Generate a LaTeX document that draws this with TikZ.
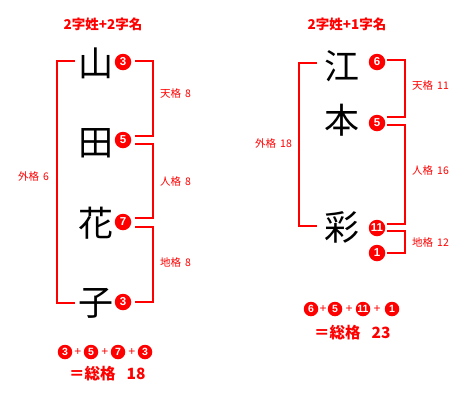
\documentclass[tikz,border=0pt]{standalone}
\usepackage{fontspec}
\newfontfamily\jp{Noto Sans CJK JP}
\newfontfamily\numf{Liberation Sans}
\definecolor{rd}{RGB}{255,0,0}
\tikzset{
  br/.style={draw=rd, line width=2pt},
  num/.style={circle, fill=rd, text=white, inner sep=0pt, minimum size=16.5pt, font=\numf\bfseries\fontsize{11.5}{11.5}\selectfont},
  snum/.style={num, minimum size=14.5pt, font=\numf\bfseries\fontsize{10.5}{10.5}\selectfont},
  big/.style={font=\jp\fontsize{35}{35}\selectfont, inner sep=0pt},
  lab/.style={text=rd, font=\jp\fontsize{10.5}{10.5}\selectfont, inner sep=0pt},
  ttl/.style={text=rd, font=\jp\bfseries\fontsize{13.5}{13.5}\selectfont, inner sep=0pt},
  tot/.style={text=rd, font=\jp\bfseries\fontsize{15.5}{15.5}\selectfont, inner sep=0pt},
  pls/.style={text=rd, font=\numf\fontsize{12}{12}\selectfont, inner sep=0pt},
}
\begin{document}
\begin{tikzpicture}[x=1pt,y=-1pt]
\useasboundingbox (0,0) rectangle (470,400);
% ---------- left ----------
\node[ttl] (t1) at (103,24) {2字姓+2字名};
\node[big] (a1) at (96,63) {山};
\node[big] (a2) at (96,143) {田};
\node[big] (a3) at (96,223) {花};
\node[big] (a4) at (96,303) {子};
\node[num] (n1) at (123,62) {3};
\node[num] (n2) at (123,140) {5};
\node[num] (n3) at (123,222) {7};
\node[num] (n4) at (123,302) {3};
% outer bracket
\coordinate (la) at (75,61);
\coordinate (lb) at (57,61);
\coordinate (lc) at (57,303);
\coordinate (ld) at (75,303);
\draw[br] (la) -- (lb) -- (lc) -- (ld);
% 天格
\coordinate (ta) at (135,61);
\coordinate (tb) at (153,61);
\coordinate (tc) at (153,136);
\coordinate (td) at (135,136);
\draw[br] (ta) -- (tb) -- (tc) -- (td);
% 人格
\coordinate (ja) at (135,144);
\coordinate (jb) at (153,144);
\coordinate (jc) at (153,218);
\coordinate (jd) at (135,218);
\draw[br] (ja) -- (jb) -- (jc) -- (jd);
% 地格
\coordinate (ca) at (135,227);
\coordinate (cb) at (153,227);
\coordinate (cc) at (153,302);
\coordinate (cd) at (135,302);
\draw[br] (ca) -- (cb) -- (cc) -- (cd);
\node[lab, anchor=west] (l1) at (160,94) {天格\hspace{4pt}8};
\node[lab, anchor=west] (l2) at (160,182) {人格\hspace{4pt}8};
\node[lab, anchor=west] (l3) at (160,262) {地格\hspace{4pt}8};
\node[lab, anchor=west] (l4) at (18,177) {外格\hspace{4pt}6};
% formula
\node[snum] (f1) at (65,352) {3};
\node[pls] (p1) at (78,352) {+};
\node[snum] (f2) at (91,352) {5};
\node[pls] (p2) at (105,352) {+};
\node[snum] (f3) at (118,352) {7};
\node[pls] (p3) at (132,352) {+};
\node[snum] (f4) at (145,352) {3};
\node[tot, anchor=west] (s1) at (69,374) {＝総格\hspace{11pt}18};
% ---------- right ----------
\node[ttl] (t2) at (347,24) {2字姓+1字名};
\node[big] (b1) at (342,66) {江};
\node[big] (b2) at (342,120) {本};
\node[big] (b3) at (342,227) {彩};
\node[num] (m1) at (377,62) {6};
\node[num] (m2) at (377,123) {5};
\node[num] (m3) at (377,228) {11};
\node[num] (m4) at (377,253) {1};
% outer bracket
\coordinate (ra) at (317,63);
\coordinate (rb) at (299,63);
\coordinate (rc) at (299,226);
\coordinate (rd) at (317,226);
\draw[br] (ra) -- (rb) -- (rc) -- (rd);
% 天格
\coordinate (sa) at (387,60);
\coordinate (sb) at (405,60);
\coordinate (sc) at (405,117);
\coordinate (sd) at (387,117);
\draw[br] (sa) -- (sb) -- (sc) -- (sd);
% 人格
\coordinate (ka) at (387,125);
\coordinate (kb) at (405,125);
\coordinate (kc) at (405,224);
\coordinate (kd) at (387,224);
\draw[br] (ka) -- (kb) -- (kc) -- (kd);
% 地格
\coordinate (ea) at (387,231);
\coordinate (eb) at (405,231);
\coordinate (ec) at (405,253);
\coordinate (ed) at (387,253);
\draw[br] (ea) -- (eb) -- (ec) -- (ed);
\node[lab, anchor=west] (r1) at (412,86) {天格\hspace{4pt}11};
\node[lab, anchor=west] (r2) at (412,171) {人格\hspace{4pt}16};
\node[lab, anchor=west] (r3) at (412,243) {地格\hspace{4pt}12};
\node[lab, anchor=west] (r4) at (255,144) {外格\hspace{4pt}18};
% formula
\node[snum] (g1) at (311,309) {6};
\node[pls] (q1) at (323,309) {+};
\node[snum] (g2) at (335,309) {5};
\node[pls] (q2) at (349,309) {+};
\node[snum] (g3) at (363,309) {11};
\node[pls] (q3) at (377,309) {+};
\node[snum] (g4) at (392,309) {1};
\node[tot, anchor=west] (s2) at (314,333) {＝総格\hspace{11pt}23};
\end{tikzpicture}
\end{document}
